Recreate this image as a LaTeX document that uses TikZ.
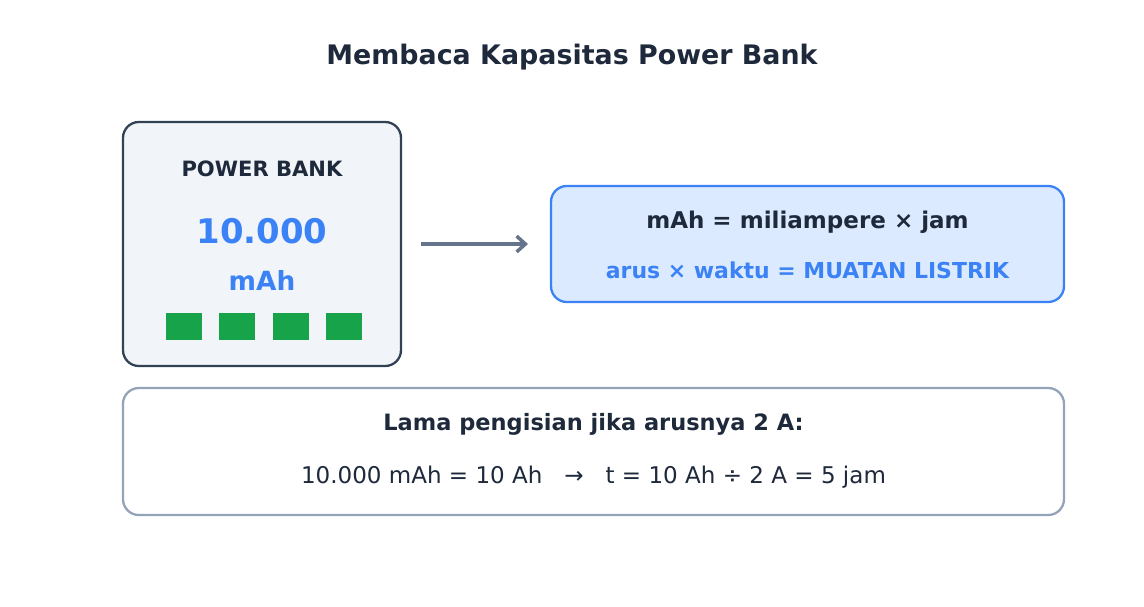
\documentclass[tikz,border=0pt]{standalone}
\usepackage{fontspec}
\setmainfont{DejaVu Sans}
\usetikzlibrary{positioning,arrows.meta}
\definecolor{ink}{HTML}{1E293B}
\definecolor{blue}{HTML}{3B82F6}
\definecolor{paleblue}{HTML}{DBEAFE}
\definecolor{slate}{HTML}{334155}
\definecolor{pale}{HTML}{F1F5F9}
\definecolor{grey}{HTML}{94A3B8}
\definecolor{arrowc}{HTML}{64748B}
\definecolor{cell}{HTML}{16A34A}
\tikzset{
  panel/.style={draw, rounded corners=9pt, line width=1.3pt, inner sep=0pt},
  cellbox/.style={fill=cell, minimum width=36*0.02cm, minimum height=27*0.02cm, inner sep=0pt},
  txt/.style={text=ink, font=\bfseries\fontsize{13.1}{15}\selectfont}
}
\begin{document}
\begin{tikzpicture}[x=0.02cm,y=-0.02cm]
  \useasboundingbox (0,0) rectangle (1144,606);

  \node[text=ink, font=\bfseries\fontsize{15.3}{18}\selectfont] (title) at (572,57) {Membaca Kapasitas Power Bank};

  % power bank
  \node[panel, draw=slate, fill=pale, minimum width=278*0.02cm, minimum height=244*0.02cm] (bank) at (262,244) {};
  \node[txt, font=\bfseries\fontsize{12}{14}\selectfont] (label) at (262,169) {POWER BANK};
  \node[text=blue, font=\bfseries\fontsize{19.3}{22}\selectfont] (cap) at (262,231) {10.000};
  \node[text=blue, font=\bfseries\fontsize{15}{18}\selectfont] (unit) at (262,280) {mAh};
  \foreach \x [count=\i] in {184,237,291,344}
    \node[cellbox] (c\i) at (\x,326) {};

  % definition
  \node[panel, draw=blue, fill=paleblue, minimum width=513*0.02cm, minimum height=116*0.02cm] (def) at (807.5,244) {};
  \node[txt] (defa) at (807.5,222) {mAh = miliampere × jam};
  \node[txt, text=blue, font=\bfseries\fontsize{12.5}{15}\selectfont] (defb) at (807.5,270) {arus × waktu = MUATAN LISTRIK};

  \coordinate (from) at (421,244);
  \coordinate (to) at (528,244);
  \draw[arrowc, line width=2pt, -{Straight Barb[length=5pt,width=9pt]}] (from) -- (to);

  % calculation
  \node[panel, draw=grey, fill=white, minimum width=941*0.02cm, minimum height=127*0.02cm] (calc) at (593.5,451.5) {};
  \node[txt, font=\bfseries\fontsize{12.8}{15}\selectfont] (calca) at (593.5,424) {Lama pengisian jika arusnya 2 A:};
  \node[text=ink, font=\fontsize{13.1}{15}\selectfont] (calcb) at (593.5,477) {10.000 mAh = 10 Ah \ \ → \ \ t = 10 Ah ÷ 2 A = 5 jam};
\end{tikzpicture}
\end{document}
